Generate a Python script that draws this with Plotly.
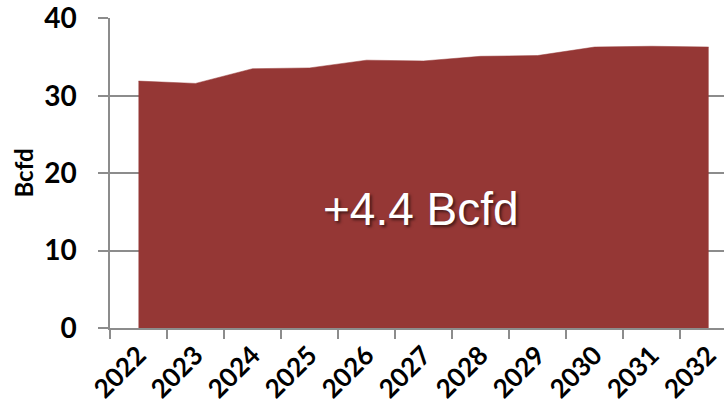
import plotly.graph_objects as go

# Annual demand outlook, Bcfd
years = ["2022", "2023", "2024", "2025", "2026", "2027",
         "2028", "2029", "2030", "2031", "2032"]
demand = [31.9, 31.6, 33.5, 33.6, 34.6, 34.5, 35.1, 35.2, 36.3, 36.4, 36.3]

y_ticks = [0, 10, 20, 30, 40]
growth_label = "+4.4 Bcfd"

fill_color = "#953735"
axis_gray = "#8c8c8c"
label_font = "Lato"

fig = go.Figure()
fig.add_trace(go.Scatter(
    x=years,
    y=demand,
    mode="lines",
    line=dict(color=fill_color, width=0.5),
    fill="tozeroy",
    fillcolor=fill_color,
    hoverinfo="x+y",
))

# growth callout centred over the 2027 category (index position on the category axis)
fig.add_annotation(
    x=years.index("2027") - 0.05, y=15.4, xref="x", yref="y",
    text=growth_label, showarrow=False,
    font=dict(family="Liberation Sans, Arial", size=46, color="white",
              shadow="2px 2px 3px rgba(0,0,0,0.55)"),
)

fig.update_layout(
    width=724, height=406,
    margin=dict(l=110, r=0, t=18, b=78),
    plot_bgcolor="white", paper_bgcolor="white",
    showlegend=False,
    xaxis=dict(
        type="category",
        range=[-0.5, 10.27],
        tickson="boundaries",
        ticks="outside", ticklen=9, tickwidth=1.5, tickcolor=axis_gray,
        showline=True, linecolor=axis_gray, linewidth=1.5,
        showgrid=False,
        tickangle=-45,
        tickfont=dict(family=label_font, size=26, color="black", weight="bold"),
    ),
    yaxis=dict(
        range=[0, 40.05],
        tickvals=y_ticks,
        ticks="outside", ticklen=10, tickwidth=1.5, tickcolor=axis_gray,
        showline=True, linecolor=axis_gray, linewidth=1.5,
        showgrid=True, gridcolor=axis_gray, gridwidth=1.5,
        zeroline=False,
        ticklabelstandoff=16,
        tickfont=dict(family=label_font, size=28, color="black", weight="bold"),
        title=dict(text="Bcfd", standoff=4,
                   font=dict(family=label_font, size=24, color="black", weight="bold")),
    ),
)

fig.write_html("out.html")
